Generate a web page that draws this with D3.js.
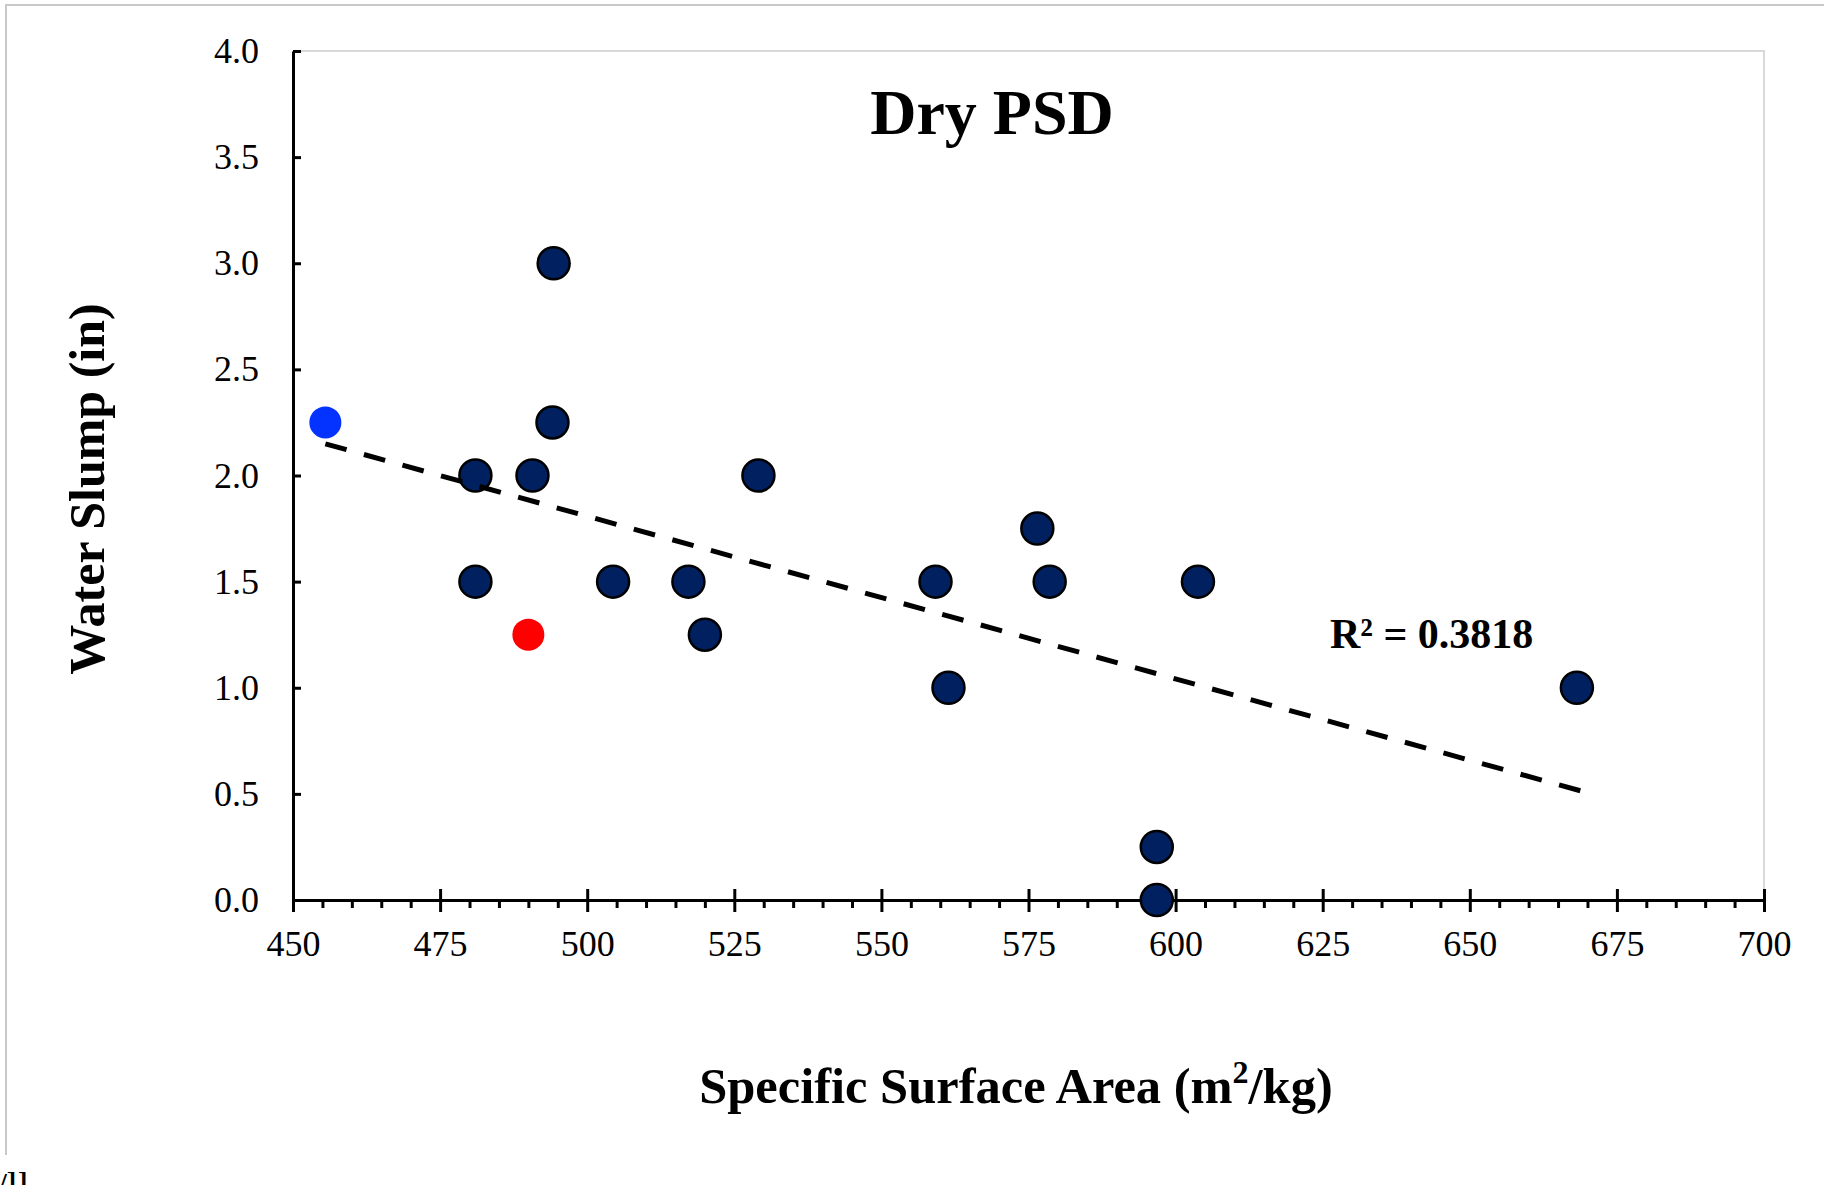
<!DOCTYPE html>
<html lang="en">
  <head>
    <meta charset="utf-8">
    <title>Dry PSD</title>
    <script src="https://cdn.jsdelivr.net/npm/d3@7"></script>
    <style>
      body { margin: 0; background: #fff; }
      text { font-family: "Liberation Serif", "Times New Roman", serif; fill: #000; }
      .axis path, .axis line { stroke: #000; stroke-width: 3; }
      .axis text { font-size: 36px; }
      .minor path { display: none; }
      .minor line { stroke: #000; stroke-width: 3; }
      .border { stroke: #d9d9d9; stroke-width: 2; fill: none; }
      .frame { stroke: #c8c8c8; stroke-width: 2; fill: none; }
      .trend { stroke: #000; stroke-width: 5; fill: none; stroke-dasharray: 22,18; }
    </style>
  </head>
  <body>
    <script>
      // specific surface area (m2/kg) vs water slump (in)
      var ssa   = [455.5, 481.0, 481.0, 490.0, 490.7, 494.1, 494.3, 504.4, 517.2, 520.0,
                   529.1, 559.2, 561.4, 576.5, 578.6, 596.8, 596.8, 603.8, 668.2];
      var slump = [2.25, 2.0, 1.5, 1.25, 2.0, 2.25, 3.0, 1.5, 1.5, 1.25,
                   2.0, 1.5, 1.0, 1.75, 1.5, 0.25, 0.0, 1.5, 1.0];
      var group = ["blue", "dark", "dark", "red", "dark", "dark", "dark", "dark", "dark", "dark",
                   "dark", "dark", "dark", "dark", "dark", "dark", "dark", "dark", "dark"];

      var xTicks = [450, 475, 500, 525, 550, 575, 600, 625, 650, 675, 700];
      var yTicks = [0, 0.5, 1.0, 1.5, 2.0, 2.5, 3.0, 3.5, 4.0];
      var rsqLabel = "R\u00b2 = 0.3818";

      var w = 1824, h = 1185;
      var padLeft = 293, padRight = 1764, padTop = 51, padBottom = 900;

      var fillFor = { dark: "#002060", blue: "#0432ff", red: "#ff0000" };

      var dataset = ssa.map(function (d, i) {
        return { x: d, y: slump[i], g: group[i] };
      });

      var xScale = d3.scaleLinear().domain([450, 700]).range([padLeft, padRight]);
      var yScale = d3.scaleLinear().domain([0, 4]).range([padBottom, padTop]);

      var svg = d3.select("body").append("svg")
                  .attr("width", w)
                  .attr("height", h);

      svg.append("rect").attr("width", w).attr("height", h).attr("fill", "#fff");

      // outer frame (top and left edges visible)
      svg.append("path")
         .attr("class", "frame")
         .attr("d", "M6,1155V5H" + w);

      // plot area border
      svg.append("path")
         .attr("class", "border")
         .attr("d", "M" + padLeft + "," + padTop + "H" + padRight + "V" + padBottom);

      // minor x ticks every 5
      var minorVals = d3.range(450, 701, 5).filter(function (v) { return v % 25 !== 0; });
      svg.append("g")
         .attr("class", "minor")
         .attr("transform", "translate(0," + padBottom + ")")
         .call(d3.axisBottom(xScale).tickValues(minorVals).tickSize(8).tickFormat(""));

      var xAxis = d3.axisBottom(xScale)
                    .tickValues(xTicks)
                    .tickSizeInner(12)
                    .tickSizeOuter(0)
                    .tickPadding(18)
                    .tickFormat(d3.format("d"));

      var gx = svg.append("g")
                  .attr("class", "x axis")
                  .attr("transform", "translate(0," + padBottom + ")")
                  .call(xAxis);
      gx.selectAll(".tick line").attr("y1", -11);

      var yAxis = d3.axisLeft(yScale)
                    .tickValues(yTicks)
                    .tickSizeInner(-8)
                    .tickSizeOuter(0)
                    .tickPadding(34)
                    .tickFormat(d3.format(".1f"));

      svg.append("g")
         .attr("class", "y axis")
         .attr("transform", "translate(" + padLeft + ",0)")
         .call(yAxis);

      // points
      svg.append("g")
         .selectAll("circle")
         .data(dataset)
         .enter()
         .append("circle")
         .attr("cx", function (d) { return xScale(d.x); })
         .attr("cy", function (d) { return yScale(d.y); })
         .attr("r", 16)
         .attr("fill", function (d) { return fillFor[d.g]; })
         .attr("stroke", function (d) { return d.g === "dark" ? "#000" : "none"; })
         .attr("stroke-width", 2.5);

      // linear trendline (least squares)
      var mx = d3.mean(dataset, function (d) { return d.x; });
      var my = d3.mean(dataset, function (d) { return d.y; });
      var sxy = d3.sum(dataset, function (d) { return (d.x - mx) * (d.y - my); });
      var sxx = d3.sum(dataset, function (d) { return (d.x - mx) * (d.x - mx); });
      var slope = sxy / sxx;
      var icpt = my - slope * mx;
      var ext = d3.extent(dataset, function (d) { return d.x; });
      var trendPts = [ext[0], ext[1] + 1.5].map(function (v) { return { x: v, y: icpt + slope * v }; });

      var line = d3.line()
                   .x(function (d) { return xScale(d.x); })
                   .y(function (d) { return yScale(d.y); });

      svg.append("path")
         .datum(trendPts)
         .attr("class", "trend")
         .attr("d", line);

      svg.append("text")
         .attr("x", 1330)
         .attr("y", 648)
         .attr("font-size", 42)
         .attr("font-weight", "bold")
         .text(rsqLabel);

      // title
      svg.append("text")
         .attr("x", 992)
         .attr("y", 134)
         .attr("text-anchor", "middle")
         .attr("font-size", 64)
         .attr("font-weight", "bold")
         .text("Dry PSD");

      // axis titles
      var xt = svg.append("text")
                  .attr("x", 1016)
                  .attr("y", 1103)
                  .attr("text-anchor", "middle")
                  .attr("font-size", 50.5)
                  .attr("font-weight", "bold");
      xt.append("tspan").text("Specific Surface Area (m");
      xt.append("tspan").attr("font-size", 32).attr("dy", -20).text("2");
      xt.append("tspan").attr("dy", 20).text("/kg)");

      svg.append("text")
         .attr("transform", "translate(104,489) rotate(-90)")
         .attr("text-anchor", "middle")
         .attr("font-size", 50)
         .attr("font-weight", "bold")
         .text("Water Slump (in)");

      // cropped text fragment at bottom-left edge
      svg.append("text")
         .attr("x", -4)
         .attr("y", 1200)
         .attr("font-size", 40)
         .attr("font-family", "Liberation Sans, sans-serif")
         .text("/ll");
    </script>
  </body>
</html>
